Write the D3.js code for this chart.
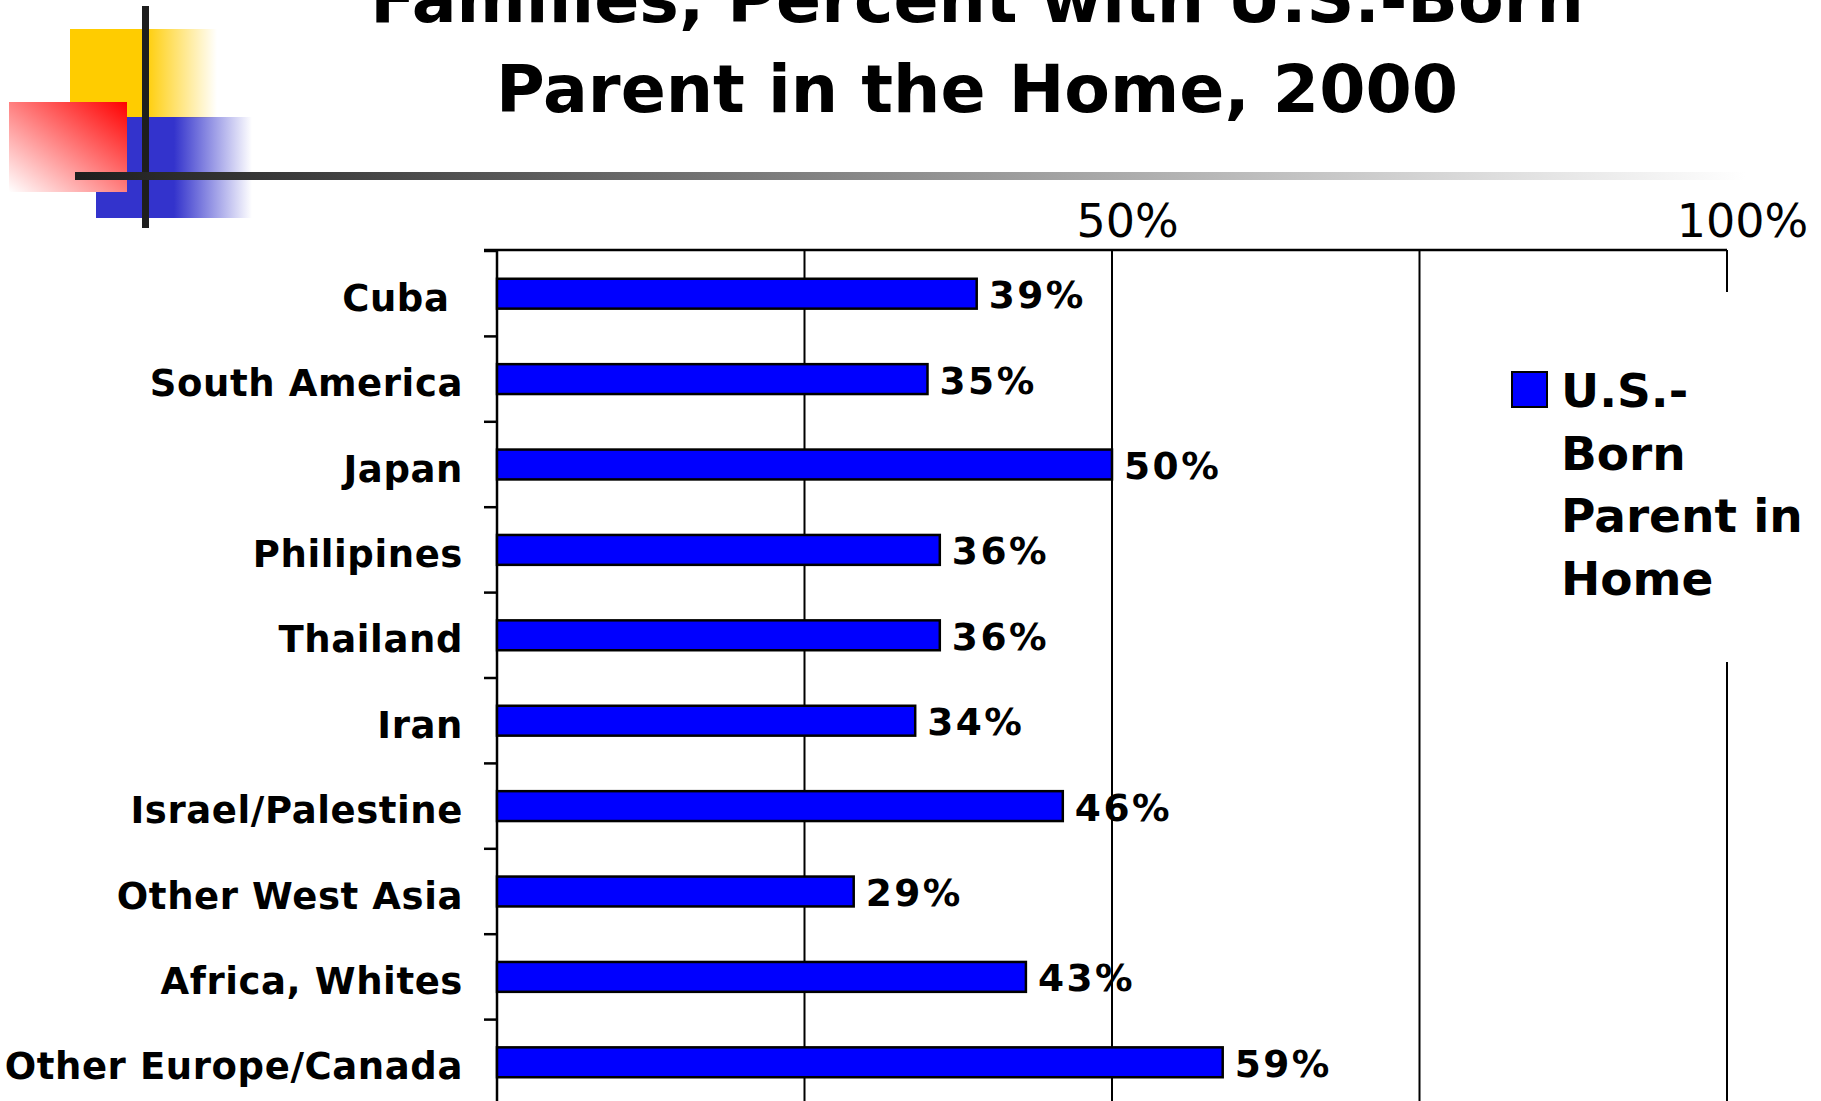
<!DOCTYPE html>
<html>
<head>
<meta charset="utf-8">
<script src="https://cdn.jsdelivr.net/npm/d3@7"></script>
<style>
  html, body { margin: 0; padding: 0; background: #fff; overflow: hidden; }
  svg { display: block; }
  text { font-family: "DejaVu Sans", Verdana, sans-serif; }
</style>
</head>
<body>
<script>
// Chart data
const categories = ["Cuba ", "South America", "Japan", "Philipines", "Thailand", "Iran",
  "Israel/Palestine", "Other West Asia", "Africa, Whites", "Other Europe/Canada"];
const values = [0.39, 0.35, 0.50, 0.36, 0.36, 0.34, 0.46, 0.29, 0.43, 0.59];
const gridValues = [0.25, 0.5, 0.75, 1.0];
const tickValues = [0.5, 1.0];
const titleLines = ["Families, Percent with U.S.-Born", "Parent in the Home, 2000"];
const legendLines = ["U.S.-", "Born", "Parent in", "Home"];

const W = 1821, H = 1101;
const svg = d3.select("body").append("svg").attr("width", W).attr("height", H);
const defs = svg.append("defs");

// ---- slide decoration (top-left squares and rules) ----
function hGrad(id, color, solidTo) {
  const g = defs.append("linearGradient").attr("id", id)
    .attr("x1", 0).attr("y1", 0).attr("x2", 1).attr("y2", 0);
  g.append("stop").attr("offset", 0).attr("stop-color", color).attr("stop-opacity", 1);
  g.append("stop").attr("offset", solidTo).attr("stop-color", color).attr("stop-opacity", 1);
  g.append("stop").attr("offset", 1).attr("stop-color", color).attr("stop-opacity", 0);
}
hGrad("gYellow", "#FFCC00", 0.5);
hGrad("gBlue", "#3333CC", 0.5);
const gRed = defs.append("linearGradient").attr("id", "gRed")
  .attr("x1", 1).attr("y1", 0).attr("x2", 0).attr("y2", 1);
gRed.append("stop").attr("offset", 0).attr("stop-color", "#FF0000");
gRed.append("stop").attr("offset", 1).attr("stop-color", "#FFFFFF");
const gRule = defs.append("linearGradient").attr("id", "gRule")
  .attr("x1", 0).attr("y1", 0).attr("x2", 1).attr("y2", 0);
gRule.append("stop").attr("offset", 0).attr("stop-color", "#1E1E1E");
gRule.append("stop").attr("offset", 1).attr("stop-color", "#FFFFFF");

const deco = svg.append("g");
deco.append("rect").attr("x", 70).attr("y", 29).attr("width", 147).attr("height", 89).attr("fill", "url(#gYellow)");
deco.append("rect").attr("x", 96).attr("y", 117).attr("width", 156).attr("height", 101).attr("fill", "url(#gBlue)");
deco.append("rect").attr("x", 9).attr("y", 102).attr("width", 118).attr("height", 90).attr("fill", "url(#gRed)");
deco.append("rect").attr("x", 142).attr("y", 6).attr("width", 7).attr("height", 222).attr("fill", "#1E1E1E");
deco.append("rect").attr("x", 75).attr("y", 172).attr("width", 1670).attr("height", 8).attr("fill", "url(#gRule)");

// ---- title ----
svg.append("g").selectAll("text").data(titleLines).join("text")
  .attr("x", 977).attr("y", (d, i) => 22 + i * 90)
  .attr("text-anchor", "middle")
  .attr("font-size", 66.5).attr("font-weight", "bold").attr("fill", "#000")
  .text(d => d);

// ---- scales ----
const x = d3.scaleLinear().domain([0, 1]).range([497, 1727]);
const y = d3.scaleBand().domain(categories).range([251, 1105])
  .paddingInner(0.65).paddingOuter(0.325);
const axisTopY = 250;

// gridlines
svg.append("g").selectAll("line").data(gridValues).join("line")
  .attr("x1", d => x(d)).attr("x2", d => x(d))
  .attr("y1", axisTopY).attr("y2", H)
  .attr("stroke", "#000").attr("stroke-width", 2);

// top axis labels
const xAxis = d3.axisTop(x).tickValues(tickValues).tickFormat(d3.format(".0%")).tickSize(0);
const gx = svg.append("g").attr("transform", `translate(0,${axisTopY - 10})`).call(xAxis);
gx.select(".domain").remove();
gx.selectAll("text")
  .attr("dx", 15).attr("dy", 0)
  .attr("font-family", "'DejaVu Sans Condensed', 'Liberation Sans', sans-serif")
  .attr("font-size", 46).attr("fill", "#000");

// axis lines
svg.append("line").attr("x1", 484).attr("x2", x(1)).attr("y1", axisTopY).attr("y2", axisTopY)
  .attr("stroke", "#000").attr("stroke-width", 2.5);
svg.append("line").attr("x1", x(0)).attr("x2", x(0)).attr("y1", axisTopY).attr("y2", H)
  .attr("stroke", "#000").attr("stroke-width", 2.5);

// category separators on the left axis
const bounds = d3.range(categories.length + 1).map(i => y.range()[0] + i * y.step());
svg.append("g").selectAll("line").data(bounds).join("line")
  .attr("x1", 484).attr("x2", x(0)).attr("y1", d => d).attr("y2", d => d)
  .attr("stroke", "#000").attr("stroke-width", 2.5);

// category labels
svg.append("g").selectAll("text").data(categories).join("text")
  .attr("x", 463).attr("y", d => y(d) + y.bandwidth() / 2 + 17)
  .attr("text-anchor", "end")
  .style("white-space", "pre")
  .attr("font-size", 37).attr("font-weight", "bold").attr("letter-spacing", 0.6)
  .attr("fill", "#000")
  .text(d => d);

// bars
const rows = categories.map((c, i) => ({ c, v: values[i] }));
svg.append("g").selectAll("rect").data(rows).join("rect")
  .attr("x", x(0)).attr("y", d => y(d.c))
  .attr("width", d => x(d.v) - x(0)).attr("height", y.bandwidth())
  .attr("fill", "#0000FF").attr("stroke", "#000").attr("stroke-width", 2.5);

// value labels
svg.append("g").selectAll("text").data(rows).join("text")
  .attr("x", d => x(d.v) + 12).attr("y", d => y(d.c) + y.bandwidth() / 2 + 14.5)
  .attr("font-size", 37.5).attr("font-weight", "bold").attr("letter-spacing", 2.5)
  .attr("fill", "#000")
  .text(d => d3.format(".0%")(d.v));

// legend (white box over the gridline)
const lg = svg.append("g");
lg.append("rect").attr("x", 1490).attr("y", 292).attr("width", W - 1490).attr("height", 370).attr("fill", "#fff");
lg.append("rect").attr("x", 1512).attr("y", 372).attr("width", 35).attr("height", 35)
  .attr("fill", "#0000FF").attr("stroke", "#000").attr("stroke-width", 2);
lg.selectAll("text").data(legendLines).join("text")
  .attr("x", 1561).attr("y", (d, i) => 407 + i * 62.7)
  .attr("font-size", 47).attr("font-weight", "bold").attr("fill", "#000")
  .text(d => d);
</script>
</body>
</html>
